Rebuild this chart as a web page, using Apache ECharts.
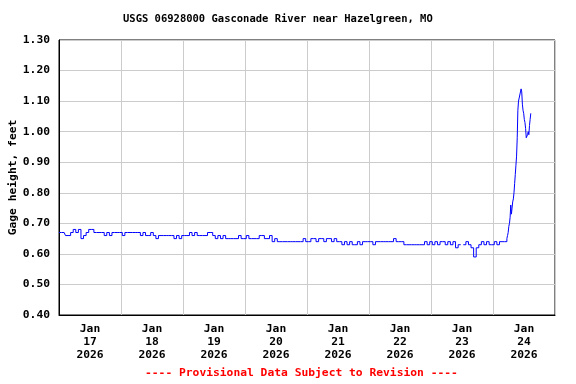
<!DOCTYPE html>
<html>
<head>
<meta charset="utf-8">
<script src="https://cdn.jsdelivr.net/npm/echarts@6/dist/echarts.min.js"></script>
<style>html,body{margin:0;padding:0;background:#fff}#c{width:576px;height:384px}</style>
</head>
<body>
<div id="c"></div>
<script>
// Category labels (one per day, drawn centred on each day)
var dayLabels = ["Jan\n17\n2026","Jan\n18\n2026","Jan\n19\n2026","Jan\n20\n2026","Jan\n21\n2026","Jan\n22\n2026","Jan\n23\n2026","Jan\n24\n2026"];
var yTicks = [0.40,0.50,0.60,0.70,0.80,0.90,1.00,1.10,1.20,1.30];

// Hourly gage height (feet), 00:00..23:00 for each day
var jan17 = [0.67,0.67,0.67,0.66,0.66,0.67,0.68,0.67,0.68,0.65,0.66,0.67,0.68,0.68,0.67,0.67,0.67,0.67,0.66,0.67,0.66,0.67,0.67,0.67];
var jan18 = [0.67,0.66,0.67,0.67,0.67,0.67,0.67,0.67,0.66,0.67,0.66,0.66,0.67,0.66,0.65,0.66,0.66,0.66,0.66,0.66,0.66,0.65,0.66,0.65];
var jan19 = [0.66,0.66,0.66,0.67,0.66,0.67,0.66,0.66,0.66,0.66,0.67,0.67,0.66,0.65,0.66,0.65,0.66,0.65,0.65,0.65,0.65,0.65,0.66,0.65];
var jan20 = [0.65,0.66,0.65,0.65,0.65,0.65,0.66,0.66,0.65,0.65,0.66,0.64,0.65,0.64,0.64,0.64,0.64,0.64,0.64,0.64,0.64,0.64,0.64,0.65];
var jan21 = [0.64,0.64,0.65,0.65,0.64,0.65,0.65,0.64,0.65,0.65,0.64,0.65,0.64,0.64,0.63,0.64,0.63,0.64,0.63,0.63,0.64,0.63,0.64,0.64];
var jan22 = [0.64,0.64,0.63,0.64,0.64,0.64,0.64,0.64,0.64,0.64,0.65,0.64,0.64,0.64,0.63,0.63,0.63,0.63,0.63,0.63,0.63,0.63,0.64,0.63];
var jan23 = [0.64,0.63,0.64,0.63,0.64,0.64,0.63,0.64,0.63,0.64,0.62,0.63,null,0.63,0.64,0.63,0.62,0.59,0.62,0.63,0.64,0.63,0.64,0.63];
// Jan 24 00:00..05:00 hourly
var jan24Early = [0.63,0.64,0.63,0.64,0.64,0.64];
// Jan 24 05:15..14:45 every 15 minutes
var jan24Rise = [0.64,0.65,0.66,0.67,0.69,0.70,0.72,0.76,0.73,0.75,0.77,0.78,0.80,0.83,0.86,0.89,0.92,0.98,1.07,1.10,1.11,1.12,1.13,1.14,1.13,1.09,1.07,1.06,1.04,1.03,1.01,0.98,0.98,0.99,1.00,0.99,1.02,1.04,1.06];

var H = 3600000, D = 24*H;
var t0 = Date.UTC(2026,0,17);
var data = [];
[jan17,jan18,jan19,jan20,jan21,jan22,jan23].forEach(function(arr,d){
  arr.forEach(function(v,h){ data.push([t0 + d*D + h*H, v]); });
});
jan24Early.forEach(function(v,h){ data.push([t0 + 7*D + h*H, v]); });
jan24Rise.forEach(function(v,i){ data.push([t0 + 7*D + 5*H + (i+1)*H/4, v]); });

var FONT = '"DejaVu Sans Mono", monospace';
var chart = echarts.init(document.getElementById('c'), null, {renderer:'canvas'});
chart.setOption({
  useUTC: true,
  animation: false,
  backgroundColor: '#ffffff',
  grid: {left:59, top:40, right:21, bottom:69, show:true, borderColor:'#000', borderWidth:1, backgroundColor:'transparent', containLabel:false, outerBoundsMode:'none'},
  xAxis: [{
    type:'time', min:t0, max:t0+8*D, minInterval:D, maxInterval:D,
    axisLine:{show:true, lineStyle:{color:'#000', width:1}},
    axisTick:{show:false}, axisLabel:{show:false},
    splitLine:{show:true, lineStyle:{color:'#cccccc', width:1}}
  },{
    type:'category', data:dayLabels, position:'bottom', boundaryGap:true,
    axisLine:{show:false}, axisTick:{show:false}, splitLine:{show:false},
    axisLabel:{show:true, interval:0, margin:8, color:'#000', fontFamily:FONT, fontWeight:'bold', fontSize:11.3, lineHeight:13}
  }],
  yAxis: {
    type:'value', min:yTicks[0], max:yTicks[yTicks.length-1], interval:0.1,
    name:'Gage height, feet', nameLocation:'middle', nameGap:40, nameRotate:90, nameMoveOverlap:false,
    nameTextStyle:{color:'#000', fontFamily:FONT, fontWeight:'bold', fontSize:11.3},
    axisLine:{show:true, lineStyle:{color:'#000'}}, axisTick:{show:false},
    axisLabel:{margin:9, color:'#000', fontFamily:FONT, fontWeight:'bold', fontSize:11.3, formatter:function(v){return v.toFixed(2);}},
    splitLine:{show:true, lineStyle:{color:'#cccccc', width:1}}
  },
  graphic: [
    {type:'text', left:123, top:14, style:{text:'USGS 06928000 Gasconade River near Hazelgreen, MO', fill:'#000', font:'bold 10.5px '+FONT}},
    {type:'text', left:145, top:368, style:{text:'---- Provisional Data Subject to Revision ----', fill:'#ff0000', font:'bold 11.3px '+FONT}}
  ],
  series: [{
    type:'line', xAxisIndex:0, data:data, step:'middle', showSymbol:false, symbol:'none',
    connectNulls:false, lineStyle:{color:'#0000ff', width:1}
  }]
});
</script>
</body>
</html>
